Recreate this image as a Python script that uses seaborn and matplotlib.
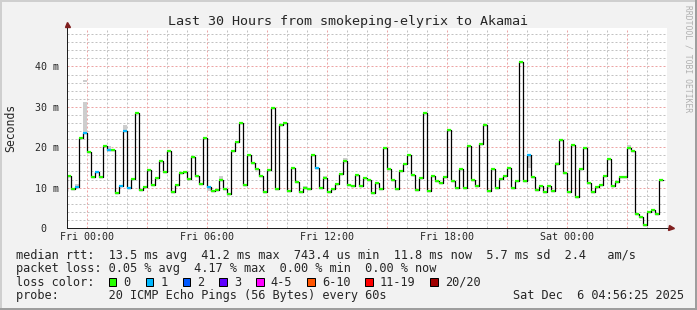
import numpy as np
import pandas as pd
import matplotlib
matplotlib.use("Agg")
import matplotlib.pyplot as plt
import matplotlib.dates as mdates
from matplotlib.ticker import MultipleLocator, FuncFormatter
from matplotlib.patches import Rectangle
from matplotlib.lines import Line2D
import seaborn as sns

# ---------------- data ----------------
median_ms = [
    9.1, 13.0, 9.7, 10.2, 22.2, 23.5, 18.7, 12.6, 13.8, 12.6,
    20.3, 19.2, 19.2, 8.6, 10.5, 24.1, 9.8, 12.2, 28.4, 9.3,
    10.2, 14.3, 10.6, 12.3, 16.5, 13.8, 19.1, 8.8, 10.6, 13.5,
    13.8, 12.2, 17.5, 13.0, 10.8, 22.3, 10.1, 9.1, 9.3, 12.0,
    9.6, 8.3, 19.0, 21.2, 25.9, 10.7, 18.0, 16.2, 14.5, 13.0,
    8.8, 14.3, 29.6, 9.6, 25.6, 25.9, 9.1, 14.8, 11.3, 8.8,
    9.8, 9.6, 18.0, 14.8, 9.8, 12.3, 8.8, 9.6, 10.8, 13.3,
    16.7, 10.6, 10.3, 13.2, 10.3, 12.3, 12.0, 8.6, 11.1, 9.6,
    19.9, 14.5, 12.0, 9.6, 14.0, 15.8, 18.0, 13.2, 9.3, 12.3,
    28.6, 9.1, 13.0, 11.6, 11.1, 12.6, 24.2, 11.6, 9.8, 14.7,
    9.8, 20.2, 12.0, 10.3, 20.7, 25.6, 9.1, 14.5, 9.8, 12.2,
    13.0, 14.8, 9.8, 11.6, 41.2, 11.6, 18.0, 12.6, 9.3, 10.3,
    8.8, 10.3, 9.1, 15.8, 21.7, 13.5, 8.8, 20.5, 7.6, 14.7,
    19.9, 11.1, 8.8, 10.1, 10.6, 13.0, 17.2, 10.3, 11.3, 12.6,
    12.6, 19.9, 19.0, 3.4, 2.7, 0.74, 3.9, 4.4, 3.4, 11.8,
]
blue_steps = [1, 4, 6, 9, 12, 15, 16, 17, 37, 64, 117]   # steps with 1/20 loss
loss_level = [1 if (i + 1) in blue_steps else 0 for i in range(len(median_ms))]

smoke_step = [4, 6, 6, 12, 16, 37, 40, 61, 66, 71, 117, 124, 142]
smoke_lo = [10.2, 23.5, 36.1, 19.2, 24.1, 9.1, 12.0, 9.8, 12.3, 16.7, 14.8, 15.8, 19.9]
smoke_hi = [11.0, 31.2, 36.7, 20.2, 25.6, 10.1, 12.8, 10.3, 12.8, 17.3, 18.0, 16.4, 20.5]

loss_labels = ["0", "1", "2", "3", "4-5", "6-10", "11-19", "20/20"]
loss_colors = ["#26ff00", "#00b8ff", "#0059ff", "#5e00ff", "#ff00ff",
               "#ff5500", "#ff0000", "#a00000"]

first_step = "2025-12-04 22:48"
step_len = "12min"
x_start, x_end = "2025-12-04 23:00", "2025-12-06 05:00"
x_label_times = ["2025-12-05 00:00", "2025-12-05 06:00", "2025-12-05 12:00",
                 "2025-12-05 18:00", "2025-12-06 00:00"]
x_labels = ["Fri 00:00", "Fri 06:00", "Fri 12:00", "Fri 18:00", "Sat 00:00"]
y_ticks = [0, 10, 20, 30, 40]
y_labels = ["0  ", "10 m", "20 m", "30 m", "40 m"]

title = "Last 30 Hours from smokeping-elyrix to Akamai"
line_rtt = "median rtt:  13.5 ms avg  41.2 ms max  743.4 us min  11.8 ms now  5.7 ms sd  2.4   am/s"
line_loss = "packet loss: 0.05 % avg  4.17 % max  0.00 % min  0.00 % now"
line_lc = "loss color:"
line_probe = "probe:       20 ICMP Echo Pings (56 Bytes) every 60s"
stamp = "Sat Dec  6 04:56:25 2025"
watermark = "RRDTOOL / TOBI OETIKER"

# ---------------- style ----------------
sns.set_style("white")
plt.rcParams["font.family"] = ["DejaVu Sans Mono", "DejaVu Sans"]

W, H = 697, 310
fig = plt.figure(figsize=(W / 100, H / 100), dpi=100, facecolor="#f2f2f2")
L, R, B, T = 67.3, 667.3, 228.0, 27.7
ax = fig.add_axes([L / W, 1 - B / H, (R - L) / W, (B - T) / H])
ax.set_facecolor("white")

starts = pd.date_range(first_step, periods=len(median_ms), freq=step_len)
x0 = mdates.date2num(starts.to_pydatetime())
dx = x0[1] - x0[0]

df = pd.DataFrame({"t": np.append(x0, x0[-1] + dx),
                   "ms": np.append(median_ms, median_ms[-1])})

# smoke
sidx = np.array(smoke_step) - 1
ax.bar(x0[sidx], np.array(smoke_hi) - np.array(smoke_lo), bottom=smoke_lo,
       width=dx, align="edge", color="#cdcdcd", linewidth=0, zorder=2)

# median line
sns.lineplot(data=df, x="t", y="ms", drawstyle="steps-post", color="black",
             lw=0.9, estimator=None, ax=ax, zorder=3)

# loss coloured segments
ax.hlines(median_ms, x0, x0 + dx, colors=[loss_colors[l] for l in loss_level],
          lw=1.6, zorder=4)

ax.set_xlim(mdates.date2num(pd.Timestamp(x_start).to_pydatetime()),
            mdates.date2num(pd.Timestamp(x_end).to_pydatetime()))
ax.set_ylim(0, 49.6)
ax.set_xlabel("")
ax.set_ylabel("")

lab_map = {mdates.date2num(pd.Timestamp(t).to_pydatetime()): s
           for t, s in zip(x_label_times, x_labels)}

def xfmt(v, pos):
    for k, s in lab_map.items():
        if abs(k - v) < 1e-6:
            return s
    return ""

ax.xaxis.set_major_locator(mdates.HourLocator(byhour=range(0, 24, 3)))
ax.xaxis.set_minor_locator(mdates.HourLocator())
ax.xaxis.set_major_formatter(FuncFormatter(xfmt))
ax.set_yticks(y_ticks)
ax.set_yticklabels(y_labels)
ax.yaxis.set_minor_locator(MultipleLocator(2))

ax.set_axisbelow(True)
ax.grid(which="minor", color="#c2c2c2", lw=0.72, ls=(0, (2, 2)))
ax.grid(which="major", color="#eda4a4", lw=0.72, ls=(0, (2, 2)))
ax.tick_params(which="both", length=0)
ax.tick_params(axis="x", labelsize=7.2, pad=3.0)
ax.tick_params(axis="y", labelsize=7.2, pad=6.0)

for s in ["top", "right"]:
    ax.spines[s].set_visible(False)
for s in ["left", "bottom"]:
    ax.spines[s].set_color("#1f1f1f")
    ax.spines[s].set_linewidth(0.72)
    ax.spines[s].set_zorder(5)

# axis extensions and arrows
ax.plot([0, 0], [1.0, 1.015], color="#1f1f1f", lw=0.72, transform=ax.transAxes, clip_on=False)
ax.plot([1.0, 1.006], [0, 0], color="#1f1f1f", lw=0.72, transform=ax.transAxes, clip_on=False)
ax.plot([0], [1.02], marker="^", ms=3.6, color="#801f1f", mec="#801f1f",
        transform=ax.transAxes, clip_on=False)
ax.plot([1.006], [0], marker=">", ms=3.6, color="#801f1f", mec="#801f1f",
        transform=ax.transAxes, clip_on=False)

# texts
def fx(px):
    return px / W

def fy(py):
    return 1 - py / H

fig.text(0.5, fy(24.5), title, ha="center", va="baseline", fontsize=9.6)
fig.text(fx(10.5), fy(128), "Seconds", rotation=90, ha="center", va="center", fontsize=8.3)
fig.text(fx(688), fy(5), watermark, rotation=270, ha="center", va="top",
         fontsize=5.8, color="#b0b0b0")

leg_fs = 8.53
fig.text(fx(16), fy(258.5), line_rtt, ha="left", va="baseline", fontsize=leg_fs)
fig.text(fx(16), fy(272.0), line_loss, ha="left", va="baseline", fontsize=leg_fs)
fig.text(fx(16), fy(285.5), line_lc, ha="left", va="baseline", fontsize=leg_fs)
fig.text(fx(16), fy(299.0), line_probe, ha="left", va="baseline", fontsize=leg_fs)
fig.text(fx(513.3), fy(299.0), stamp, ha="left", va="baseline", fontsize=leg_fs)

sq_x = [108.7, 145.7, 182.7, 219.3, 256.3, 307.3, 365.3, 430.3]
for xs, lab, col in zip(sq_x, loss_labels, loss_colors):
    fig.add_artist(Rectangle((fx(xs), fy(286.0)), 7.3 / W, 8.0 / H,
                             transform=fig.transFigure, facecolor=col,
                             edgecolor="black", lw=0.72))
    fig.text(fx(xs + 14.5), fy(285.5), lab, ha="left", va="baseline", fontsize=leg_fs)

# 3D frame
fig.add_artist(Line2D([0, 1], [fy(1), fy(1)], transform=fig.transFigure, color="#cfcfcf", lw=1.44))
fig.add_artist(Line2D([fx(1), fx(1)], [0, 1], transform=fig.transFigure, color="#cfcfcf", lw=1.44))
fig.add_artist(Line2D([0, 1], [fy(H - 1), fy(H - 1)], transform=fig.transFigure, color="#9e9e9e", lw=1.44))
fig.add_artist(Line2D([fx(W - 1), fx(W - 1)], [0, 1], transform=fig.transFigure, color="#9e9e9e", lw=1.44))

fig.savefig("out.png", dpi=100, facecolor=fig.get_facecolor())
